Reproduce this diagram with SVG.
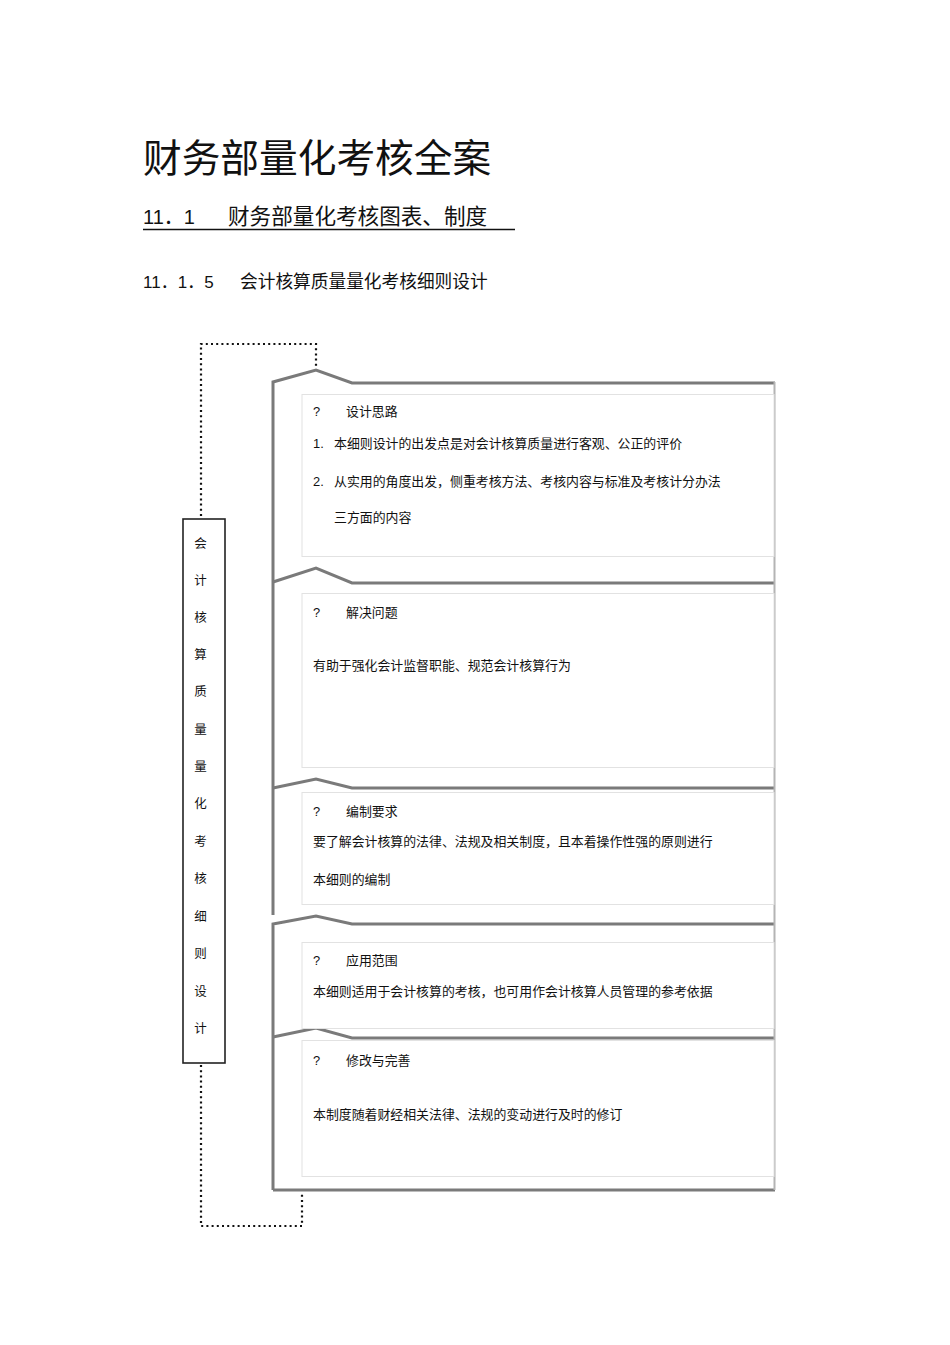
<svg xmlns="http://www.w3.org/2000/svg" width="950" height="1345" viewBox="0 0 950 1345">
<style>
text{font-family:"Liberation Sans","Noto Sans CJK SC",sans-serif;fill:#111}
.cjk{font-family:"Noto Sans CJK SC","Liberation Sans",sans-serif}
.t{font-size:12.9px}
.v{font-size:12.5px;text-anchor:middle}
.frame{fill:none;stroke:#7a7a7a;stroke-width:3;stroke-linejoin:miter}
.edge{fill:none;stroke:#b4b4b4;stroke-width:2}
.box{fill:#fff;stroke:#e2e2e2;stroke-width:1}
.dot{fill:none;stroke:#111;stroke-width:2.2;stroke-dasharray:2 3.2}
</style>
<rect width="950" height="1345" fill="#fff"/>
<g id="title">
<text x="143" y="172" class="cjk" font-size="38.7">财务部量化考核全案</text>
<text x="143" y="224" font-size="20">11<tspan class="cjk">．</tspan>1<tspan class="cjk" x="228" font-size="21.6">财务部量化考核图表、制度</tspan></text>
<line x1="143" y1="229.5" x2="515" y2="229.5" stroke="#111" stroke-width="1.3"/>
<text x="143" y="288" font-size="17">11<tspan class="cjk">．</tspan>1<tspan class="cjk">．</tspan>5<tspan class="cjk" x="240" font-size="17.7">会计核算质量量化考核细则设计</tspan></text>
</g>
<g id="connectors">
<path class="dot" d="M316,371 V344 H201 V518"/>
<path class="dot" d="M201,1065 V1226 H302 V1192"/>
</g>
<g id="frames">
<path class="frame" d="M273,915 V382 L316,370 L352,383 H775"/>
<path class="frame" d="M273,582 L316,568 L352,583 H775"/>
<path class="frame" d="M273,788 L316,779 L352,788 H775"/>
<path class="frame" d="M273,1190 V924 L316,916 L352,924 H775"/>
<path class="frame" d="M273,1037 L316,1028 L352,1038 H775"/>
<path class="frame" d="M273,1190 H775"/>
<path class="edge" d="M774.5,382 V1190"/>
</g>
<g id="side-label">
<rect x="183" y="519" width="42" height="544" fill="#fff" stroke="#222" stroke-width="1.6"/>
<text class="cjk v" x="200.5" y="548">会</text>
<text class="cjk v" x="200.5" y="585">计</text>
<text class="cjk v" x="200.5" y="622">核</text>
<text class="cjk v" x="200.5" y="659">算</text>
<text class="cjk v" x="200.5" y="696">质</text>
<text class="cjk v" x="200.5" y="734">量</text>
<text class="cjk v" x="200.5" y="771">量</text>
<text class="cjk v" x="200.5" y="808">化</text>
<text class="cjk v" x="200.5" y="846">考</text>
<text class="cjk v" x="200.5" y="883">核</text>
<text class="cjk v" x="200.5" y="921">细</text>
<text class="cjk v" x="200.5" y="958">则</text>
<text class="cjk v" x="200.5" y="996">设</text>
<text class="cjk v" x="200.5" y="1033">计</text>
</g>
<g id="box-design">
<rect class="box" x="302" y="394.5" width="472" height="162"/>
<text class="t" x="313" y="416">?<tspan class="cjk" x="346">设计思路</tspan></text>
<text class="t" x="313" y="448">1.<tspan class="cjk" x="334">本细则设计的出发点是对会计核算质量进行客观、公正的评价</tspan></text>
<text class="t" x="313" y="486">2.<tspan class="cjk" x="334">从实用的角度出发，侧重考核方法、考核内容与标准及考核计分办法</tspan></text>
<text class="t cjk" x="334" y="522">三方面的内容</text>
</g>
<g id="box-problem">
<rect class="box" x="302" y="593.5" width="472" height="174"/>
<text class="t" x="313" y="617">?<tspan class="cjk" x="346">解决问题</tspan></text>
<text class="t cjk" x="313" y="670">有助于强化会计监督职能、规范会计核算行为</text>
</g>
<g id="box-requirement">
<rect class="box" x="302" y="792.5" width="472" height="112"/>
<text class="t" x="313" y="816">?<tspan class="cjk" x="346">编制要求</tspan></text>
<text class="t cjk" x="313" y="846">要了解会计核算的法律、法规及相关制度，且本着操作性强的原则进行</text>
<text class="t cjk" x="313" y="884">本细则的编制</text>
</g>
<g id="box-scope">
<rect class="box" x="302" y="942.5" width="472" height="86"/>
<text class="t" x="313" y="965">?<tspan class="cjk" x="346">应用范围</tspan></text>
<text class="t cjk" x="313" y="996">本细则适用于会计核算的考核，也可用作会计核算人员管理的参考依据</text>
</g>
<g id="box-revise">
<rect class="box" x="302" y="1040.5" width="472" height="136"/>
<text class="t" x="313" y="1065">?<tspan class="cjk" x="346">修改与完善</tspan></text>
<text class="t cjk" x="313" y="1119">本制度随着财经相关法律、法规的变动进行及时的修订</text>
</g>
</svg>
